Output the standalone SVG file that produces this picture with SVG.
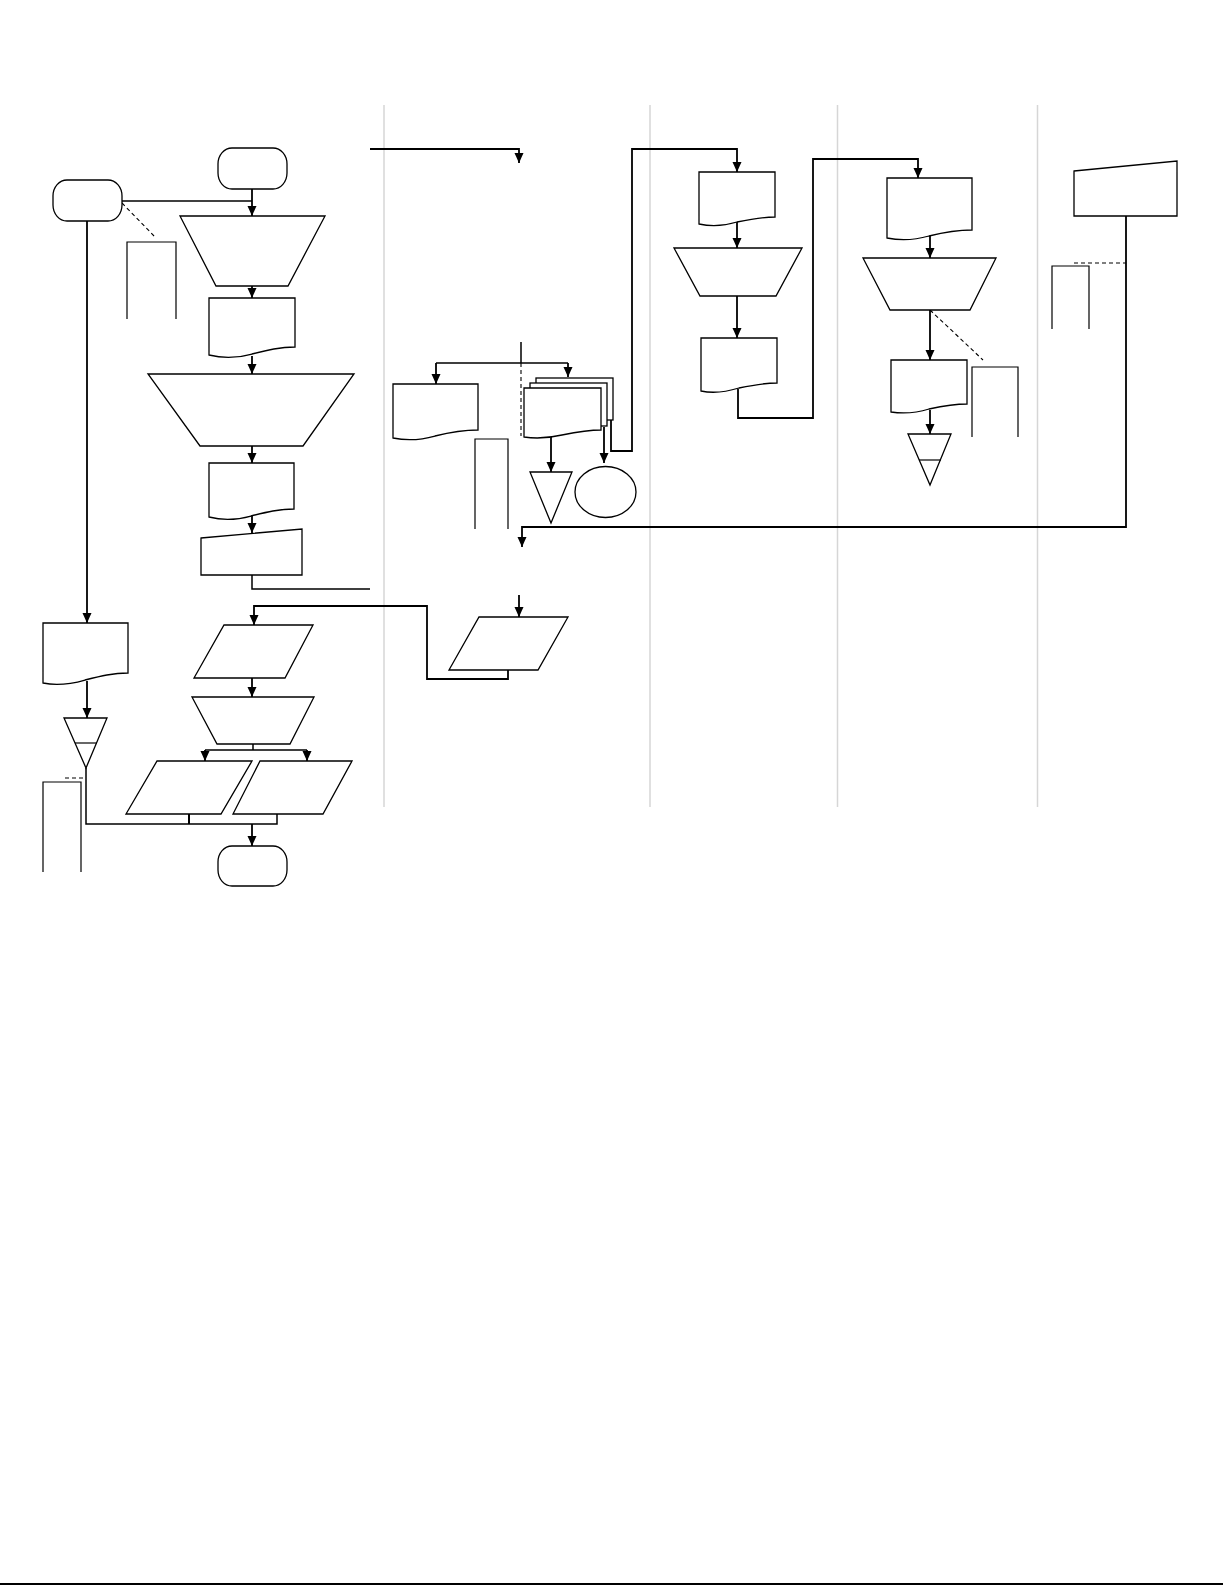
<svg xmlns="http://www.w3.org/2000/svg" width="1225" height="1585" viewBox="0 0 1225 1585">
<defs>
<marker id="ah" markerUnits="userSpaceOnUse" markerWidth="11" markerHeight="10" refX="10" refY="4.5" orient="auto">
<path d="M0,0 L10,4.5 L0,9 z" fill="#000"/>
</marker>
<style>
.s{fill:#fff;stroke:#000;stroke-width:1.3}
.o{fill:none;stroke:#000;stroke-width:1.2}
.c{fill:none;stroke:#000;stroke-width:1.5}
.a{fill:none;stroke:#000;stroke-width:1.8;marker-end:url(#ah)}
.d{fill:none;stroke:#000;stroke-width:1.1;stroke-dasharray:4 3}
.lane{stroke:#d6d6d6;stroke-width:1.5}
</style>
</defs>
<rect width="1225" height="1585" fill="#fff"/>
<g id="lanes">
<line class="lane" x1="384" y1="105" x2="384" y2="807"/>
<line class="lane" x1="650" y1="105" x2="650" y2="807"/>
<line class="lane" x1="837.5" y1="105" x2="837.5" y2="807"/>
<line class="lane" x1="1037.5" y1="105" x2="1037.5" y2="807"/>
</g>
<g id="connectors">
<path class="c" d="M122,201 H252"/>
<path class="a" d="M252,189 V216"/>
<path class="a" d="M252,286 V298"/>
<path class="a" d="M252,356 V374"/>
<path class="a" d="M252,446 V463"/>
<path class="a" d="M252,516 V533"/>
<path class="c" d="M252,575 V589 H370"/>
<path class="a" d="M370,149 H519 V163"/>
<path class="a" d="M87,221 V623"/>
<path class="a" d="M87,681 V718"/>
<path class="c" d="M86,768 V824 H277 V814"/>
<path class="c" d="M189,814 V824" style="stroke-width:2"/>
<path class="a" d="M252,824 V846"/>
<path class="a" d="M252,678 V697"/>
<path class="c" d="M253,744 V750 M205,750 H307"/>
<path class="a" d="M205,750 V761"/>
<path class="a" d="M307,750 V761"/>
<path class="c" d="M521,342 V363 M436,363 H568"/>
<path class="a" d="M436,363 V384"/>
<path class="a" d="M568,363 V377"/>
<path class="a" d="M551,434 V472"/>
<path class="a" d="M604,427 V463"/>
<path class="a" d="M611,420 V451 H632 V149 H737 V172"/>
<path class="a" d="M737,222 V248"/>
<path class="a" d="M737,296 V338"/>
<path class="a" d="M738,389 V418 H813 V159 H918 V178"/>
<path class="a" d="M930,236 V258"/>
<path class="a" d="M930,310 V360"/>
<path class="a" d="M930,410 V434"/>
<path class="a" d="M1126,216 V527 H522 V547"/>
<path class="a" d="M519,595 V617"/>
<path class="a" d="M508,670 V679 H427 V606 H254 V625"/>
<path class="d" d="M122,203 L156,238"/>
<path class="d" d="M65,778 H85"/>
<path class="d" d="M521,363 V436"/>
<path class="d" d="M930,310 L983,360"/>
<path class="d" d="M1074,263 H1126"/>
</g>
<g id="start"><rect class="s" x="218" y="148" width="69" height="41" rx="14" ry="16"/></g>
<g id="term-left"><rect class="s" x="53" y="180" width="69" height="41" rx="14" ry="16"/></g>
<g id="end"><rect class="s" x="218" y="846" width="69" height="40" rx="14" ry="16"/></g>
<g id="trap1"><polygon class="s" points="180,216 325,216 288,286 216,286"/></g>
<g id="trap2"><polygon class="s" points="148,374 354,374 303,446 200,446"/></g>
<g id="trap3"><polygon class="s" points="192,697 314,697 290,744 217,744"/></g>
<g id="trapA"><polygon class="s" points="674,248 802,248 776,296 700,296"/></g>
<g id="trapB"><polygon class="s" points="863,258 996,258 970,310 890,310"/></g>
<g id="doc1"><path class="s" d="M209,298 H295 V347 C280,347 268,350 252,354 C238,358 225,359 209,355 Z"/></g>
<g id="doc2"><path class="s" d="M209,463 H294 V509 C279,509 267,512 251,516 C237,520 224,521 209,517 Z"/></g>
<g id="doc-left"><path class="s" d="M43,623 H128 V673 C113,673 101,676 85,680 C71,684 58,686 43,683 Z"/></g>
<g id="docA"><path class="s" d="M699,172 H775 V217 C762,217 751,219 737,222 C724,226 713,227 699,224 Z"/></g>
<g id="docB"><path class="s" d="M701,338 H777 V383 C764,383 753,385 739,388 C726,392 715,394 701,391 Z"/></g>
<g id="docC"><path class="s" d="M887,178 H972 V230 C957,230 945,232 929,236 C915,240 902,241 887,238 Z"/></g>
<g id="docD"><path class="s" d="M891,360 H967 V404 C954,404 943,406 929,409 C916,413 905,414 891,412 Z"/></g>
<g id="docE"><path class="s" d="M393,384 H478 V430 C463,430 451,432 435,436 C421,440 408,441 393,438 Z"/></g>
<g id="multidoc">
<rect class="s" x="536" y="378" width="77" height="42"/>
<rect class="s" x="530" y="383" width="77" height="43"/>
<path class="s" d="M524,388 H601 V430 C588,430 577,432 562,435 C549,438 537,439 524,437 Z"/>
</g>
<g id="mi1"><polygon class="s" points="201,538 302,529 302,575 201,575"/></g>
<g id="mi2"><polygon class="s" points="1074,171 1177,161 1177,216 1074,216"/></g>
<g id="p1"><polygon class="s" points="224,625 313,625 285,678 194,678"/></g>
<g id="p2"><polygon class="s" points="157,761 252,761 221,814 126,814"/></g>
<g id="p3"><polygon class="s" points="260,761 352,761 323,814 233,814"/></g>
<g id="p4"><polygon class="s" points="479,617 568,617 538,670 449,670"/></g>
<g id="merge-left"><polygon class="s" points="64,718 107,718 86,768"/><line class="o" x1="75" y1="743" x2="97" y2="743"/></g>
<g id="merge-right"><polygon class="s" points="908,434 951,434 930,485"/><line class="o" x1="919" y1="460" x2="941" y2="460"/></g>
<g id="tri"><polygon class="s" points="530,472 572,472 551,523"/></g>
<g id="ellipse"><ellipse class="s" cx="605.5" cy="492" rx="30.5" ry="25.5"/></g>
<g id="brackets">
<path class="o" d="M127,319 V242 H176 V319"/>
<path class="o" d="M43,872 V782 H81 V872"/>
<path class="o" d="M475,529 V439 H508 V529"/>
<path class="o" d="M972,437 V367 H1018 V437"/>
<path class="o" d="M1052,329 V266 H1089 V329"/>
</g>
<line x1="0" y1="1584" x2="1223" y2="1584" stroke="#000" stroke-width="2"/>
</svg>
